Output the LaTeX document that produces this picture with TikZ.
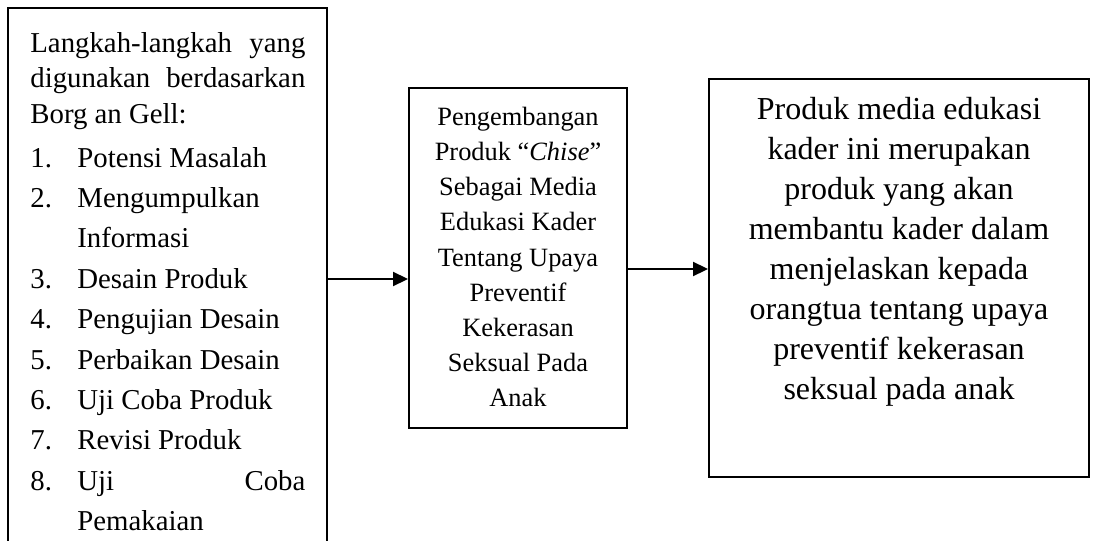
\documentclass[tikz,border=0pt]{standalone}
\usepackage{fontspec}
\setmainfont{Liberation Serif}
\usetikzlibrary{arrows.meta}
\tikzset{
	kotak/.style 2 args={draw,line width=1pt,inner sep=0pt,minimum width=#1,minimum height=#2},
	baris/.style={anchor=base west,inner sep=0pt,font=\fontsize{14.4}{17}\selectfont},
	isi/.style 2 args={align=center,inner sep=0pt,font=\fontsize{#1}{#2}\selectfont},
	panah/.style={-{Triangle[length=7.5pt,width=7pt]},line width=1.1pt}
}

\begin{document}
\begin{tikzpicture}[x=0.5pt,y=-0.5pt]
	\clip (0,0) rectangle (1095,540);
	% kotak
	\node [kotak={159.5pt}{276pt}] (kiri) at (167.5,284) {};
	\node [kotak={109pt}{170pt}] (tengah) at (518,258) {};
	\node [kotak={190pt}{199pt}] (kanan) at (899,278) {};

	% teks kiri
	\node [baris] (judul1) at (30,53) {\makebox[137.5pt][s]{Langkah-langkah\hfill yang}};
	\node [baris] (judul2) at (30,88) {\makebox[137.5pt][s]{digunakan\hfill berdasarkan}};
	\node [baris] (judul3) at (30,123) {Borg an Gell:};
	\foreach \no/\teks [count=\i from 0] in {1./Potensi Masalah,2./Mengumpulkan,/Informasi,3./Desain Produk,4./Pengujian Desain,5./Perbaikan Desain,6./Uji Coba Produk,7./Revisi Produk,8./{\makebox[114pt][s]{Uji\hfill Coba}},/Pemakaian}{
		\node [baris] (no\i) at (30,167+40.4*\i) {\no};
		\node [baris] (item\i) at (77,167+40.4*\i) {\teks};
	}

	% teks tengah dan kanan
	\node [isi={13.2}{17.55}] (isitengah) at (518,257) {Pengembangan\\Produk “\textit{Chise}”\\Sebagai Media\\Edukasi Kader\\Tentang Upaya\\Preventif\\Kekerasan\\Seksual Pada\\Anak};
	\node [isi={16}{20}] (isikanan) at (899,252) {Produk media edukasi\\kader ini merupakan\\produk yang akan\\membantu kader dalam\\menjelaskan kepada\\orangtua tentang upaya\\preventif kekerasan\\seksual pada anak};

	\draw [panah] ([yshift=2.5pt]kiri.east) -- ([yshift=2.5pt]kiri.east -| tengah.west);
	\draw [panah] ([yshift=-5.5pt]tengah.east) -- ([yshift=-5.5pt]tengah.east -| kanan.west);
\end{tikzpicture}
\end{document}
